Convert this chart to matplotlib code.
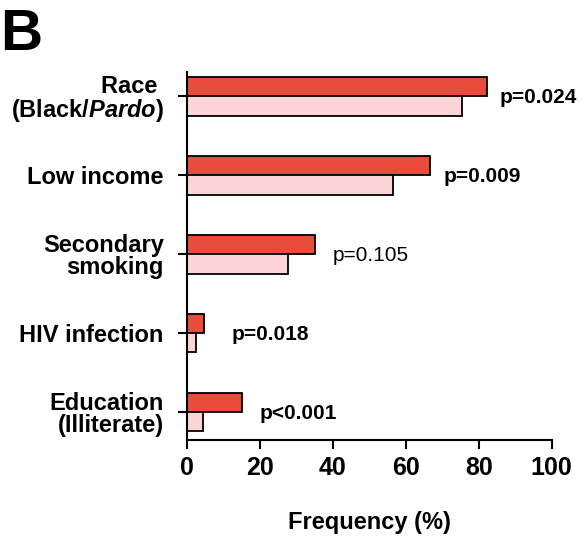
import matplotlib
matplotlib.use('Agg')
from matplotlib import pyplot as plt

plt.rcParams['font.family'] = ['Liberation Sans', 'DejaVu Sans']
plt.rcParams['mathtext.fontset'] = 'custom'
plt.rcParams['mathtext.rm'] = 'Liberation Sans:bold'
plt.rcParams['mathtext.it'] = 'Liberation Sans:italic:bold'

# data, top to bottom
categories = ['Race \n(Black/$\\it{Pardo}$)', 'Low income', 'Secondary\nsmoking',
              'HIV infection', 'Education\n(Illiterate)']
group_a = [82.4, 66.7, 35.3, 4.7, 15.3]   # red
group_b = [75.4, 56.6, 27.8, 2.6, 4.5]    # pink
p_labels = ['p=0.024', 'p=0.009', 'p=0.105', 'p=0.018', 'p<0.001']
p_bold = [True, True, False, True, True]
p_x = [85.8, 70.5, 40.1, 12.4, 20.1]
xticks = [0, 20, 40, 60, 80, 100]

fig = plt.figure(figsize=(5.85, 5.36), dpi=100)
ax = fig.add_axes([0.319, 0.179, 0.624, 0.687])

n = len(categories)
ypos = [n - 1 - i for i in range(n)]
h = 0.245
ax.barh([y + h / 2 for y in ypos], group_a, height=h, color='#e84c3a',
        edgecolor='black', linewidth=1.3)
ax.barh([y - h / 2 for y in ypos], group_b, height=h, color='#fbd5d8',
        edgecolor='black', linewidth=1.3)

for i, y in enumerate(ypos):
    ax.text(p_x[i], y - 0.02, p_labels[i], fontsize=15,
            fontweight='bold' if p_bold[i] else 'normal',
            ha='left', va='center')

ax.set_xlim(0, 100)
ax.set_ylim(-0.355, n - 1 + 0.31)
ax.set_xticks(xticks)
ax.set_xticklabels([str(t) for t in xticks], fontsize=18, fontweight='bold')
ax.set_yticks(ypos)
ax.set_yticklabels(categories, fontsize=17, fontweight='bold', linespacing=0.95)
ax.tick_params(axis='x', length=6.5, width=1.5, pad=5)
ax.tick_params(axis='y', length=6.5, width=1.5, pad=10)
ax.spines['top'].set_visible(False)
ax.spines['right'].set_visible(False)
ax.spines['left'].set_linewidth(1.5)
ax.spines['bottom'].set_linewidth(1.5)
ax.set_xlabel('Frequency (%)', fontsize=17, fontweight='bold', labelpad=22)

fig.text(0.0, 0.985, 'B', fontsize=42, fontweight='bold', ha='left', va='top')

fig.savefig('out.png', dpi=100)
